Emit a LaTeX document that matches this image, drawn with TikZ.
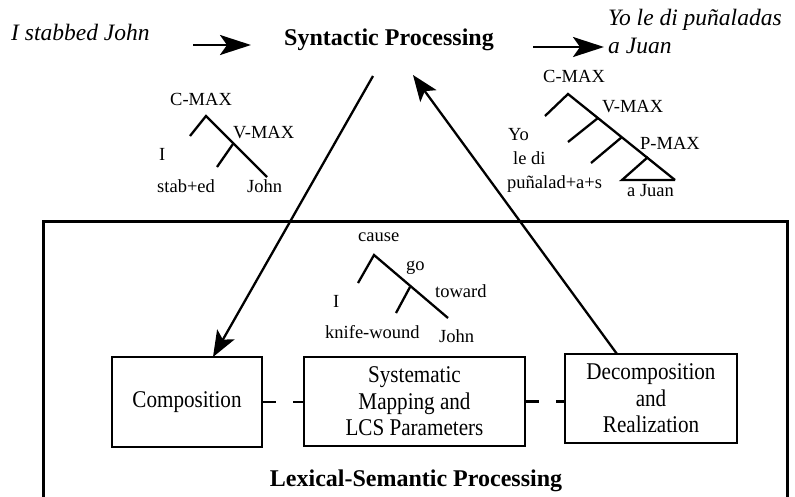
\documentclass[tikz,border=0pt]{standalone}
\usepackage{fontspec}
\setmainfont{Liberation Serif}
\newfontfamily\boxfont{Liberation Serif}[FakeStretch=0.88]
\usetikzlibrary{arrows.meta,calc}

\begin{document}
\begin{tikzpicture}[x=1pt,y=-1pt,
  treelbl/.style={anchor=base west, inner sep=0pt, font=\fontsize{18.5}{20}\selectfont},
  branch/.style={line width=2.3pt},
  procbox/.style={draw, line width=2.6pt, inner sep=0pt, align=center,
    font=\boxfont\fontsize{24}{26.5}\selectfont},
  title/.style={font=\bfseries\fontsize{24}{28}\selectfont, inner sep=0pt, anchor=base},
  sentence/.style={font=\itshape\fontsize{23.5}{28}\selectfont, inner sep=0pt,
    anchor=base west, align=left},
  flow/.style={line width=2.3pt, -{Stealth[length=26pt,width=20pt,inset=6pt]}},
  feed/.style={line width=2.6pt, -{Stealth[length=31pt,width=20pt,inset=7pt]}},
  link/.style={line width=2.6pt, dash pattern=on 13pt off 17pt}
]
\useasboundingbox (0,0) rectangle (795,496);
\clip (0,0) rectangle (795,496);

% top row: input sentence, syntactic stage, output sentence
\node[sentence] (src) at (11,40) {I stabbed John};
\node[title] (syn) at (389,45) {Syntactic Processing};
% a two-line node sits on the baseline of its last line
\node[sentence] (tgt) at (608,53) {Yo le di puñaladas\\a Juan};

\coordinate (f1s) at (193,45);
\coordinate (f1e) at (251,45);
\coordinate (f2s) at (533,47);
\coordinate (f2e) at (604,47);
\draw[feed] (f1s) -- (f1e);
\draw[feed] (f2s) -- (f2e);

% English phrase structure
\node[treelbl] (ecmax) at (170,105) {C-MAX};
\node[treelbl] (evmax) at (233,138) {V-MAX};
\node[treelbl] (ei) at (159,160) {I};
\node[treelbl] (estab) at (157,192) {stab+ed};
\node[treelbl] (ejohn) at (247,192) {John};
\draw[branch] (190,136) -- (206,116) -- (267,177);
\draw[branch] (217,167) -- (233,144);

% Spanish phrase structure
\node[treelbl] (scmax) at (543,82) {C-MAX};
\node[treelbl] (svmax) at (602,112) {V-MAX};
\node[treelbl] (spmax) at (640,149) {P-MAX};
\node[treelbl] (syo) at (508,140) {Yo};
\node[treelbl] (sledi) at (513,164) {le di};
\node[treelbl] (spun) at (507,188) {puñalad+a+s};
\node[treelbl] (sjuan) at (627,196) {a Juan};
\draw[branch] (545,116) -- (568,94) -- (675,180);
\draw[branch] (568,142) -- (598,118);
\draw[branch] (591,163) -- (622,137);
\draw[branch] (648,157) -- (622,180) -- (675,180);

% lexical-semantic stage
\draw[line width=3pt] (43,510) -- (43,221) -- (787,221) -- (787,510);
\node[title] (lex) at (416,486) {Lexical-Semantic Processing};

% LCS tree
\node[treelbl] (lcause) at (358,241) {cause};
\node[treelbl] (lgo) at (406,270) {go};
\node[treelbl] (ltoward) at (435,297) {toward};
\node[treelbl] (li) at (333,307) {I};
\node[treelbl] (lknife) at (325,338) {knife-wound};
\node[treelbl] (ljohn) at (439,342) {John};
\draw[branch] (358,283) -- (374,255) -- (448,318);
\draw[branch] (396,313) -- (410,287);

% the three lexical-semantic modules
\node[procbox, minimum width=150pt, minimum height=90pt] (comp) at (187,402) {Composition};
\node[procbox, minimum width=221pt, minimum height=89pt] (sys) at (414.5,401.5)
  {Systematic\\Mapping and\\LCS Parameters};
\node[procbox, minimum width=172pt, minimum height=89pt] (dec) at (651,398.5)
  {Decomposition\\and\\Realization};
\draw[link] (comp.east) -- (comp.east -| sys.west);
\draw[link] (sys.east) -- (sys.east -| dec.west);

% flow between the syntactic and lexical-semantic stages
\coordinate (downs) at (373,76);
\coordinate (downe) at (213,357);
\coordinate (ups) at (617,354);
\coordinate (upe) at (413,75);
\draw[flow] (downs) -- (downe);
\draw[flow] (ups) -- (upe);
\end{tikzpicture}
\end{document}
